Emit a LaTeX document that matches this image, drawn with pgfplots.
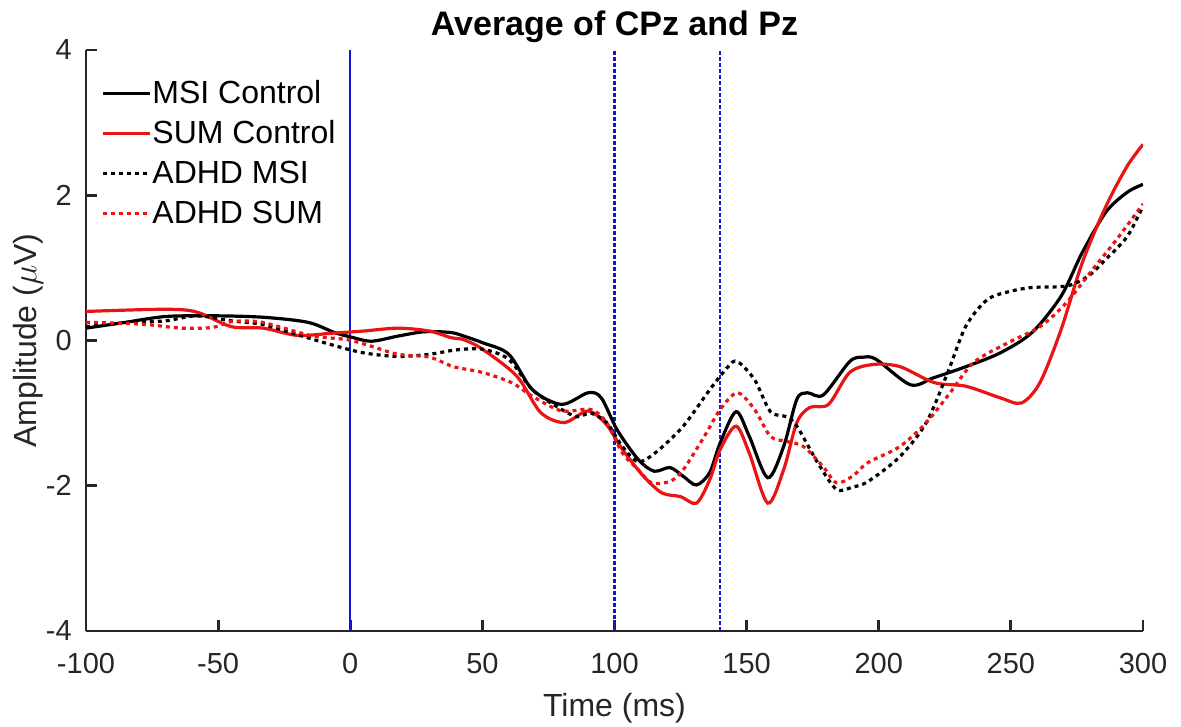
\documentclass[border=0pt]{standalone}
\usepackage{fontspec}
\setmainfont{Liberation Sans}
\usepackage{pgfplots}
\pgfplotsset{compat=1.18}
\definecolor{axgray}{RGB}{38,38,38}
\definecolor{mred}{RGB}{235,20,20}
\definecolor{mblue}{RGB}{20,20,215}
\begin{document}
\begin{tikzpicture}
\begin{axis}[
  name=ax,
  scale only axis,
  width=528.5pt, height=290.5pt,
  xmin=-100, xmax=300, ymin=-4, ymax=4,
  axis x line*=bottom, axis y line*=left,
  axis line style={draw=axgray, line width=1.4pt},
  every tick/.style={draw=axgray, line width=1.4pt},
  tick align=inside,
  major tick length=5.5pt,
  xtick={-100,-50,0,50,100,150,200,250,300},
  xticklabels={-100,-50,0,50,100,150,200,250,300},
  ytick={-4,-2,0,2,4},
  yticklabels={-4,-2,0,2,4},
  ticklabel style={font=\fontsize{14.5}{17}\selectfont, text=axgray},
  xticklabel style={yshift=-7.5pt},
  yticklabel style={xshift=-3.6pt},
  xlabel={Time (ms)},
  ylabel={Amplitude ($\mu$V)},
  label style={font=\fontsize{16}{19}\selectfont, text=axgray},
  xlabel style={yshift=-3pt},
  ylabel style={yshift=-5.5pt},
  title={Average of CPz and Pz},
  title style={font=\bfseries\fontsize{17}{20}\selectfont, yshift=-6pt},
  legend cell align=left,
  legend style={at={(0.014,0.9535)}, anchor=north west, draw=none, fill=none,
    font=\fontsize{16}{19}\selectfont, row sep=4pt, inner sep=0pt,
    nodes={inner xsep=0.5pt, inner ysep=1pt, text height=12pt, text depth=2pt}},
  legend image code/.code={\draw[#1] (0pt,0pt) -- (23.5pt,0pt);},
  clip=true,
]
\addplot[mblue, line width=1.1pt, forget plot] coordinates {(0,-4) (0,4)};
\addplot[mblue, line width=1.1pt, dash pattern=on 2.2pt off 0.8pt, forget plot] coordinates {(100,-4) (100,4)};
\addplot[mblue, line width=1.1pt, dash pattern=on 2.2pt off 0.8pt, forget plot] coordinates {(140,-4) (140,4)};

% MSI Control
\addplot[black, line width=1.6pt, smooth, tension=0.5] coordinates {
(-100,0.17) (-85,0.25) (-70,0.33) (-52,0.34) (-33,0.32) (-16,0.25) (-6,0.11) (0,0.05)
(8,-0.01) (18,0.06) (28,0.12) (38,0.11) (43,0.06) (50,-0.03) (60,-0.19) (69,-0.68)
(80,-0.88) (90,-0.72) (95,-0.79) (101,-1.23) (109,-1.64) (115,-1.80) (121,-1.75)
(126,-1.87) (131,-1.99) (136,-1.82) (140,-1.41) (146,-0.98) (151,-1.32) (158,-1.89)
(164,-1.46) (169,-0.81) (173,-0.72) (179,-0.75) (189,-0.29) (194,-0.23) (199,-0.26)
(212,-0.61) (221,-0.51) (233,-0.36) (246,-0.17) (258,0.11) (269,0.61) (277,1.21)
(286,1.77) (294,2.04) (300,2.15)};
\addlegendentry{MSI Control}

% SUM Control
\addplot[mred, line width=1.6pt, smooth, tension=0.5] coordinates {
(-100,0.40) (-70,0.43) (-58,0.39) (-45,0.19) (-33,0.17) (-20,0.07) (-7,0.10) (5,0.13)
(18,0.17) (30,0.13) (38,0.04) (43,0.01) (50,-0.12) (63,-0.49) (72,-0.99) (81,-1.13)
(90,-0.97) (97,-1.16) (103,-1.50) (111,-1.87) (118,-2.10) (125,-2.15) (131,-2.24)
(136,-1.92) (140,-1.50) (146,-1.18) (151,-1.55) (158,-2.24) (164,-1.78) (169,-1.13)
(174,-0.92) (181,-0.88) (189,-0.44) (198,-0.33) (208,-0.36) (221,-0.58) (233,-0.63)
(246,-0.79) (254,-0.86) (261,-0.58) (269,0.15) (277,1.07) (286,1.85) (294,2.40) (300,2.70)};
\addlegendentry{SUM Control}

% ADHD MSI
\addplot[black, line width=1.6pt, dash pattern=on 2pt off 2pt, smooth, tension=0.5] coordinates {
(-100,0.19) (-83,0.25) (-70,0.27) (-58,0.34) (-45,0.27) (-33,0.22) (-20,0.08) (-7,-0.06)
(5,-0.17) (18,-0.22) (30,-0.19) (40,-0.13) (50,-0.12) (60,-0.26) (69,-0.68) (80,-0.95)
(86,-1.05) (91,-1.00) (97,-1.13) (103,-1.46) (109,-1.67) (116,-1.53) (126,-1.18)
(136,-0.68) (143,-0.36) (146.5,-0.29) (153,-0.54) (159,-0.98) (165,-1.05) (169,-1.18)
(177,-1.69) (184,-2.05) (190,-2.02) (196,-1.94) (208,-1.60) (218,-1.13) (226,-0.45)
(233,0.20) (241,0.56) (249,0.67) (258,0.73) (271,0.75) (279,0.88) (286,1.12) (294,1.43) (300,1.85)};
\addlegendentry{ADHD MSI}

% ADHD SUM
\addplot[mred, line width=1.6pt, dash pattern=on 2pt off 2pt, smooth, tension=0.5] coordinates {
(-100,0.25) (-89,0.24) (-77,0.22) (-64,0.17) (-52,0.18) (-45,0.26) (-35,0.26) (-26,0.18)
(-14,0.06) (-1,0.01) (8,-0.08) (18,-0.19) (30,-0.23) (39,-0.36) (50,-0.44) (61,-0.58)
(69,-0.77) (80,-0.97) (91,-0.95) (97,-1.13) (103,-1.55) (109,-1.78) (114,-1.96)
(121,-1.94) (126,-1.78) (134,-1.32) (140,-0.95) (146.5,-0.72) (153,-0.95) (159,-1.32)
(165,-1.39) (171.5,-1.46) (179,-1.74) (184,-1.96) (190,-1.87) (196,-1.68) (208,-1.46)
(218,-1.13) (227,-0.72) (236,-0.30) (249,-0.03) (261,0.19) (271,0.52) (281,0.98)
(290,1.39) (300,1.88)};
\addlegendentry{ADHD SUM}
\end{axis}
\pgfresetboundingbox
\path[use as bounding box] ([shift={(-43pt,-48pt)}]ax.south west) rectangle ([shift={(19pt,25pt)}]ax.north east);
\end{tikzpicture}
\end{document}
